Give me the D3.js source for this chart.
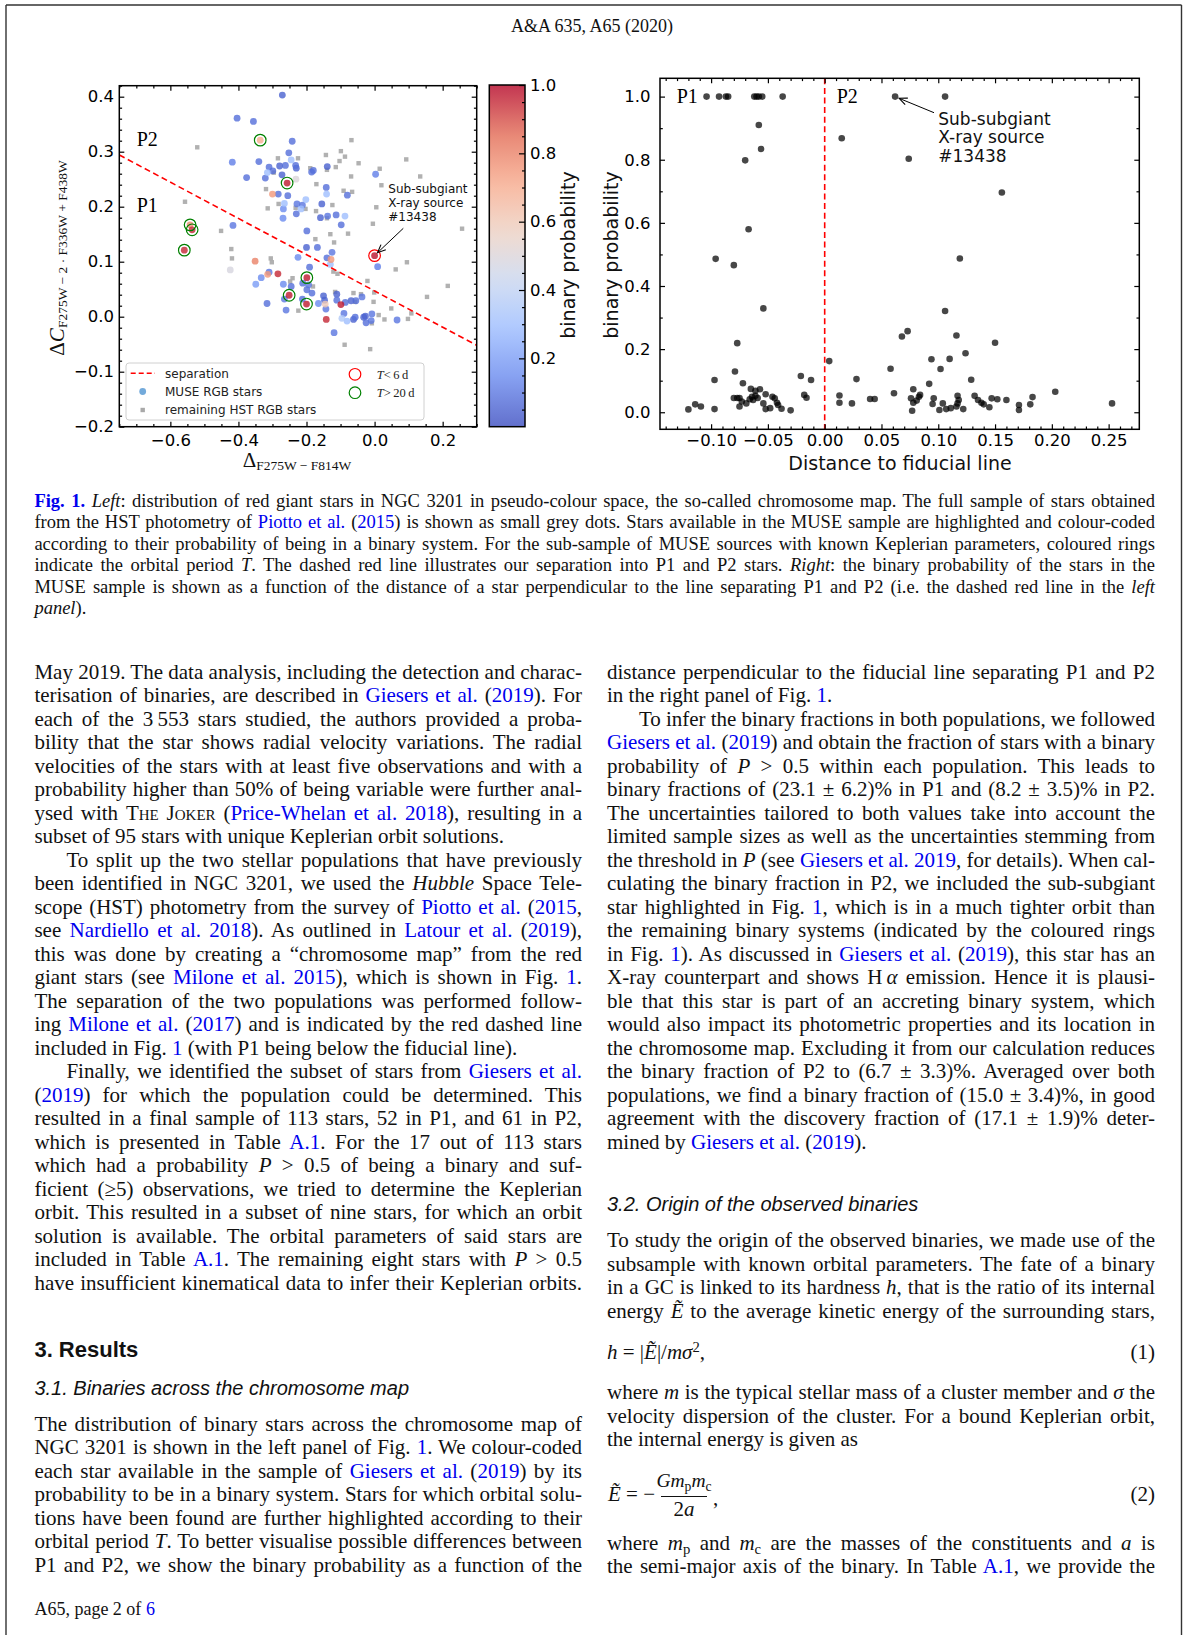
<!DOCTYPE html>
<html>
<head>
<meta charset="utf-8">
<script src="https://cdn.jsdelivr.net/npm/d3@7"></script>
<style>
html,body{margin:0;padding:0;background:#fff;}
body{width:1184px;height:1635px;position:relative;overflow:hidden;}
#page{position:absolute;left:0;top:0;width:1184px;height:1635px;}
#page svg{position:absolute;left:0;top:0;}
.ln{position:absolute;white-space:nowrap;color:#111;}
.ln a{color:#0000ee;text-decoration:none;}
.ln sub{font-size:0.7em;vertical-align:-0.28em;line-height:0;}
.ln sup{font-size:0.7em;vertical-align:0.5em;line-height:0;}
.sc{font-variant:small-caps;}
</style>
</head>
<body>
<div id="page"></div>
<script>
// ---------- chromosome map (left panel) ----------
const museDx = [-0.271,-0.404,-0.356,-0.242,-0.252,-0.418,-0.340,-0.310,-0.279,-0.262,-0.232,-0.230,-0.245,-0.299,-0.272,-0.315,-0.376,-0.321,-0.180,-0.185,-0.139,0.003,-0.142,-0.141,-0.080,-0.283,-0.255,-0.265,-0.268,-0.202,-0.228,-0.212,-0.216,-0.230,-0.269,-0.155,-0.159,-0.138,-0.113,-0.087,-0.098,-0.199,-0.416,-0.200,-0.168,-0.225,-0.125,-0.140,-0.130,-0.191,0.009,-0.310,-0.333,-0.349,-0.268,-0.211,-0.194,-0.199,-0.184,-0.245,-0.265,-0.316,-0.260,-0.212,-0.150,-0.147,-0.165,-0.143,-0.111,-0.111,-0.086,-0.069,-0.055,-0.037,-0.090,-0.096,-0.081,-0.062,-0.057,-0.032,-0.027,-0.008,-0.025,-0.010,0.066,-0.119,-0.424,-0.145,-0.231,
  -0.336,-0.257,-0.300,-0.542,-0.536,-0.559,-0.351,-0.284,-0.314,-0.199,-0.251,-0.200,-0.099,-0.142,0.000,-0.128];
const museDy = [0.403,0.361,0.355,0.319,0.298,0.281,0.282,0.272,0.274,0.275,0.275,0.270,0.285,0.265,0.258,0.262,0.253,0.252,0.266,0.263,0.273,0.259,0.235,0.223,0.221,0.223,0.220,0.206,0.196,0.213,0.205,0.203,0.196,0.187,0.179,0.205,0.180,0.183,0.185,0.183,0.167,0.156,0.166,0.126,0.126,0.108,0.117,0.107,0.095,0.090,0.091,0.081,0.071,0.059,0.059,0.061,0.058,0.049,0.043,0.055,0.032,0.024,0.012,0.032,0.038,0.030,0.024,0.014,0.041,0.030,0.026,0.029,0.029,0.036,0.006,-0.003,-0.008,-0.005,-0.001,-0.001,0.001,0.005,-0.011,-0.007,-0.006,-0.029,0.085,0.023,0.250,
  0.321,0.243,0.223,0.167,0.158,0.121,0.101,0.078,0.077,0.071,0.039,0.023,0.022,-0.005,0.111,0.104];
const museP = [0.05,0.08,0.08,0.08,0.08,0.12,0.08,0.08,0.05,0.08,0.08,0.05,0.30,0.08,0.05,0.30,0.08,0.08,0.08,0.08,0.05,0.12,0.08,0.30,0.08,0.08,0.08,0.30,0.15,0.30,0.10,0.10,0.30,0.08,0.15,0.05,0.05,0.10,0.08,0.30,0.08,0.08,0.10,0.05,0.08,0.15,0.10,0.08,0.30,0.08,0.12,0.10,0.15,0.20,0.15,0.08,0.10,0.08,0.08,0.08,0.10,0.08,0.10,0.08,0.05,0.05,0.15,0.10,0.05,0.08,0.08,0.05,0.08,0.10,0.10,0.35,0.30,0.05,0.08,0.05,0.05,0.10,0.08,0.10,0.10,0.10,0.48,0.60,0.50,
  0.70,0.97,0.75,0.78,0.95,0.95,0.80,0.95,0.75,0.97,0.97,0.97,0.97,0.95,0.98,0.75];

const hstDx = [-0.521,-0.557,-0.451,-0.421,-0.419,-0.068,-0.099,-0.087,-0.143,-0.103,-0.047,-0.114,-0.140,-0.189,-0.284,-0.225,-0.296,0.015,0.020,-0.069,-0.171,-0.319,-0.091,-0.066,-0.314,-0.282,-0.232,-0.203,-0.172,-0.124,-0.140,0.005,-0.005,-0.078,-0.130,-0.174,-0.119,0.093,0.134,0.257,0.095,0.062,-0.021,-0.001,0.049,0.154,0.215,0.098,0.029,-0.008,-0.088,-0.013,-0.305,-0.302,-0.121,-0.109,-0.248,-0.241,-0.181,-0.224,-0.116,-0.062,-0.040,-0.057,-0.003,0.012,0.108];
const hstDy = [0.308,0.209,0.156,0.123,0.106,0.321,0.301,0.291,0.294,0.283,0.279,0.272,0.267,0.270,0.288,0.288,0.262,0.269,0.239,0.255,0.241,0.232,0.229,0.227,0.197,0.205,0.198,0.196,0.192,0.203,0.179,0.199,0.169,0.151,0.150,0.141,0.135,0.286,0.255,0.160,0.099,0.086,0.065,0.044,0.015,0.036,0.056,-0.004,-0.005,-0.012,-0.051,-0.059,0.106,0.099,0.082,0.078,0.064,0.070,0.055,0.011,0.045,0.043,0.041,0.027,0.027,0.003,0.006];

// stars with Keplerian solutions, ringed by orbital period
const ringDx = [-0.336,-0.257,-0.542,-0.536,-0.559,-0.199,-0.251,-0.200,0.000];
const ringDy = [0.321,0.243,0.167,0.158,0.121,0.071,0.039,0.023,0.111];
const ringPeriod = ['long','long','long','long','long','long','long','long','short'];

// fiducial P1/P2 separation
const sepX = [-0.75, 0.30];
const sepY = [0.294, -0.052];

// ---------- binary probability vs distance (right panel) ----------
const distFid = [-0.104,-0.093,-0.087,-0.085,-0.062,-0.060,-0.058,-0.055,-0.037,0.062,0.106,
  -0.058,-0.056,-0.070,-0.067,-0.096,-0.080,-0.054,-0.077,-0.079,-0.097,-0.072,-0.021,-0.012,0.004,0.015,0.028,0.013,0.013,0.024,-0.018,-0.016,0.040,0.044,
  -0.120,-0.114,-0.109,-0.097,-0.080,-0.077,-0.075,-0.075,-0.073,-0.069,-0.066,-0.064,-0.063,-0.065,-0.061,-0.057,-0.061,-0.059,-0.054,-0.052,-0.052,-0.048,-0.046,-0.044,-0.042,-0.041,-0.038,-0.030,
  0.074,0.156,0.119,0.106,0.068,0.073,0.116,0.150,0.124,0.094,0.110,0.058,0.102,0.092,0.129,0.061,0.078,0.203,
  0.076,0.078,0.083,0.084,0.081,0.077,0.096,0.095,0.101,0.104,0.107,0.111,0.117,0.118,0.117,0.116,0.122,0.132,0.135,0.138,0.140,0.145,0.147,0.152,0.160,0.171,0.171,0.181,0.183,0.253];
const binProb = [1,1,1,1,1,1,1,1,1,1,1,
  0.910,0.834,0.798,0.580,0.486,0.466,0.329,0.219,0.129,0.102,0.092,0.115,0.102,0.162,0.868,0.105,0.053,0.030,0.028,0.055,0.046,0.042,0.042,
  0.009,0.025,0.018,0.010,0.045,0.045,0.045,0.018,0.034,0.028,0.041,0.049,0.039,0.074,0.068,0.073,0.052,0.045,0.028,0.057,0.010,0.013,0.049,0.044,0.030,0.023,0.011,0.006,
  0.803,0.696,0.487,0.321,0.240,0.257,0.243,0.220,0.187,0.168,0.169,0.138,0.137,0.090,0.103,0.060,0.073,0.065,
  0.044,0.030,0.049,0.055,0.037,0.005,0.044,0.026,0.007,0.028,0.010,0.013,0.052,0.039,0.028,0.018,0.010,0.052,0.039,0.030,0.025,0.016,0.044,0.041,0.039,0.023,0.007,0.025,0.048,0.028];

// tick labels
const leftXTicks = [-0.6,-0.4,-0.2,0.0,0.2];
const leftYTicks = [-0.2,-0.1,0.0,0.1,0.2,0.3,0.4];
const rightXTicks = [-0.10,-0.05,0.00,0.05,0.10,0.15,0.20,0.25];
const rightYTicks = [0.0,0.2,0.4,0.6,0.8,1.0];
const cbarTicks = [0.2,0.4,0.6,0.8,1.0];

const coolwarm = d3.scaleLinear()
  .domain(d3.range(8).map(i => i / 7))
  .range(['#3b4cc0','#6788ee','#9abbff','#c9d7f0','#edd1c2','#f7a889','#e26952','#b40426'])
  .interpolate(d3.interpolateRgb);

const page = d3.select('#page');
const svg = page.append('svg').attr('width', 1184).attr('height', 1635);

// page frame
const frame = svg.append('g').attr('stroke', '#333').attr('stroke-width', 1.4);
frame.append('line').attr('x1', 6).attr('x2', 1181.5).attr('y1', 5).attr('y2', 5);
frame.append('line').attr('x1', 6).attr('x2', 6).attr('y1', 5).attr('y2', 1635);
frame.append('line').attr('x1', 1181.5).attr('x2', 1181.5).attr('y1', 5).attr('y2', 1635);

svg.append('defs').append('marker')
  .attr('id', 'arr').attr('viewBox', '-10 -6 12 12').attr('refX', 0).attr('refY', 0)
  .attr('markerWidth', 12).attr('markerHeight', 12).attr('markerUnits', 'userSpaceOnUse')
  .attr('orient', 'auto')
  .append('path').attr('d', 'M-8,-3.5 L0,0 L-8,3.5').attr('fill', 'none').attr('stroke', '#000').attr('stroke-width', 1.1);

const SANS = '"DejaVu Sans", sans-serif';
const SERIF = '"Liberation Serif", "DejaVu Serif", serif';

function styleTicks(g, fs) {
  g.select('.domain').remove();
  g.selectAll('line').attr('stroke', '#000').attr('stroke-width', 1.2);
  g.selectAll('text').attr('font-family', SANS).attr('font-size', fs || 16.5).attr('fill', '#000');
}
function notIn(vals, step) {
  return vals.filter(v => Math.abs(v / step - Math.round(v / step)) > 1e-6);
}
function frameAxes(g, x, y, xMaj, yMaj, xMin, yMin, fx, fy, padX, padY) {
  const [x0, x1] = x.range(), [y0, y1] = y.range();
  const defs = [
    [d3.axisBottom(x), xMaj, -5, fx, padX, `translate(0,${y0})`],
    [d3.axisBottom(x), xMin, -2.8, null, 0, `translate(0,${y0})`],
    [d3.axisTop(x), xMaj, -5, null, 0, `translate(0,${y1})`],
    [d3.axisTop(x), xMin, -2.8, null, 0, `translate(0,${y1})`],
    [d3.axisLeft(y), yMaj, -5, fy, padY, `translate(${x0},0)`],
    [d3.axisLeft(y), yMin, -2.8, null, 0, `translate(${x0},0)`],
    [d3.axisRight(y), yMaj, -5, null, 0, `translate(${x1},0)`],
    [d3.axisRight(y), yMin, -2.8, null, 0, `translate(${x1},0)`]
  ];
  defs.forEach(([ax, vals, sz, fmt, pad, tr]) => {
    ax.tickValues(vals).tickSize(sz).tickPadding(pad).tickFormat(fmt || (() => ''));
    const a = g.append('g').attr('transform', tr).call(ax);
    styleTicks(a);
  });
  g.append('rect').attr('x', x0).attr('y', y1).attr('width', x1 - x0).attr('height', y0 - y1)
    .attr('fill', 'none').attr('stroke', '#000').attr('stroke-width', 1.5);
}

// ---------- left panel ----------
const xL = d3.scaleLinear().domain([-0.75, 0.30]).range([119.3, 476.7]);
const yL = d3.scaleLinear().domain([-0.20, 0.42]).range([426.7, 85.7]);
const gL = svg.append('g');
const clipL = svg.select('defs').append('clipPath').attr('id', 'clipL');
clipL.append('rect').attr('x', 119.3).attr('y', 85.7).attr('width', 357.4).attr('height', 341);
const plotL = gL.append('g').attr('clip-path', 'url(#clipL)');

plotL.selectAll('rect.hst').data(d3.range(hstDx.length)).join('rect').attr('class', 'hst')
  .attr('x', i => xL(hstDx[i]) - 2.2).attr('y', i => yL(hstDy[i]) - 2.2)
  .attr('width', 4.4).attr('height', 4.4).attr('fill', '#a9a9a9').attr('opacity', 0.9);

const museOrder = d3.range(museDx.length).sort((a, b) => museP[a] - museP[b]);
plotL.selectAll('circle.muse').data(museOrder).join('circle').attr('class', 'muse')
  .attr('cx', i => xL(museDx[i])).attr('cy', i => yL(museDy[i])).attr('r', 3.4)
  .attr('fill', i => coolwarm(museP[i])).attr('opacity', 0.8);

plotL.append('line')
  .attr('x1', xL(sepX[0])).attr('y1', yL(sepY[0])).attr('x2', xL(sepX[1])).attr('y2', yL(sepY[1]))
  .attr('stroke', '#ff0000').attr('stroke-width', 1.6).attr('stroke-dasharray', '6,3.6');

plotL.selectAll('circle.ring').data(d3.range(ringDx.length)).join('circle').attr('class', 'ring')
  .attr('cx', i => xL(ringDx[i])).attr('cy', i => yL(ringDy[i])).attr('r', 5.8)
  .attr('fill', 'none').attr('stroke', i => ringPeriod[i] === 'short' ? '#ff0000' : '#008000').attr('stroke-width', 1.2);

frameAxes(gL, xL, yL, leftXTicks, leftYTicks,
  notIn(d3.range(-0.75, 0.301, 0.05).map(v => +v.toFixed(3)), 0.2),
  notIn(d3.range(-0.20, 0.421, 0.02).map(v => +v.toFixed(3)), 0.1),
  d3.format('.1f'), d3.format('.1f'), 7.3, 5.3);

// P1 / P2 labels
gL.append('text').attr('x', 136.7).attr('y', 146).text('P2').attr('font-family', SERIF).attr('font-size', 20);
gL.append('text').attr('x', 136.7).attr('y', 211.7).text('P1').attr('font-family', SERIF).attr('font-size', 20);

// annotation
const annL = gL.append('text').attr('font-family', SANS).attr('font-size', 12).attr('fill', '#111');
['Sub-subgiant', 'X-ray source', '#13438'].forEach((t, i) =>
  annL.append('tspan').attr('x', 388.3).attr('y', 193.3 + i * 13.6).text(t));
gL.append('line').attr('x1', 403.3).attr('y1', 228.3).attr('x2', xL(0.0) + 3).attr('y2', yL(0.111) - 3)
  .attr('stroke', '#000').attr('stroke-width', 1).attr('marker-end', 'url(#arr)');

// legend
const lg = gL.append('g');
lg.append('rect').attr('x', 126).attr('y', 363).attr('width', 298).attr('height', 57).attr('rx', 3)
  .attr('fill', '#fff').attr('fill-opacity', 0.8).attr('stroke', '#d0d0d0').attr('stroke-width', 1);
lg.append('line').attr('x1', 130.7).attr('x2', 155).attr('y1', 373.3).attr('y2', 373.3)
  .attr('stroke', '#ff0000').attr('stroke-width', 1.6).attr('stroke-dasharray', '5,3');
lg.append('circle').attr('cx', 142.7).attr('cy', 391.5).attr('r', 3.4).attr('fill', '#5b9bd5').attr('opacity', 0.85);
lg.append('rect').attr('x', 140.5).attr('y', 407.8).attr('width', 4.4).attr('height', 4.4).attr('fill', '#a9a9a9');
[['separation', 373.3], ['MUSE RGB stars', 391.3], ['remaining HST RGB stars', 409.3]].forEach(([t, y]) =>
  lg.append('text').attr('x', 165).attr('y', y + 4.3).text(t).attr('font-family', SANS).attr('font-size', 12).attr('fill', '#222'));
lg.append('circle').attr('cx', 355).attr('cy', 374.3).attr('r', 5.8).attr('fill', 'none').attr('stroke', '#ff0000').attr('stroke-width', 1.2);
lg.append('circle').attr('cx', 355).attr('cy', 392.7).attr('r', 5.8).attr('fill', 'none').attr('stroke', '#008000').attr('stroke-width', 1.2);
[['<', '6', 374.3], ['>', '20', 392.7]].forEach(([op, n, y]) => {
  const t = lg.append('text').attr('x', 376.7).attr('y', y + 4.3).attr('font-family', SERIF).attr('font-size', 12.5).attr('fill', '#222');
  t.append('tspan').attr('font-style', 'italic').text('T');
  t.append('tspan').text(op + '\u2009' + n + '\u2009d');
});

// axis titles
const xlab = gL.append('text').attr('x', 297).attr('y', 466.5).attr('text-anchor', 'middle').attr('font-family', SERIF).attr('fill', '#111');
xlab.append('tspan').attr('font-size', 21).text('Δ');
xlab.append('tspan').attr('font-size', 13.5).attr('dy', 3).text('F275W − F814W');
const ylab = gL.append('text').attr('transform', 'translate(64,258) rotate(-90)').attr('text-anchor', 'middle').attr('font-family', SERIF).attr('fill', '#111');
ylab.append('tspan').attr('font-size', 21).text('Δ');
ylab.append('tspan').attr('font-size', 21).attr('font-style', 'italic').text('C');
ylab.append('tspan').attr('font-size', 13.5).attr('dy', 3).text('F275W − 2 · F336W + F438W');

// colour bar
const cb = svg.append('g');
const cbY = d3.scaleLinear().domain([0, 1]).range([426.7, 85]);
const grad = svg.select('defs').append('linearGradient').attr('id', 'cw')
  .attr('x1', 0).attr('y1', 1).attr('x2', 0).attr('y2', 0);
d3.range(0, 1.0001, 0.05).forEach(v => grad.append('stop').attr('offset', v).attr('stop-color', coolwarm(v)));
cb.append('rect').attr('x', 489.3).attr('y', 85).attr('width', 35.7).attr('height', 341.7)
  .attr('fill', 'url(#cw)').attr('opacity', 0.8);
const cbAx = cb.append('g').attr('transform', 'translate(525,0)')
  .call(d3.axisRight(cbY).tickValues(cbarTicks).tickSize(-6).tickPadding(5).tickFormat(d3.format('.1f')));
styleTicks(cbAx);
const cbMin = cb.append('g').attr('transform', 'translate(525,0)')
  .call(d3.axisRight(cbY).tickValues(notIn(d3.range(0.05, 1, 0.05).map(v => +v.toFixed(2)), 0.2)).tickSize(-3).tickFormat(() => ''));
styleTicks(cbMin);
cb.append('rect').attr('x', 489.3).attr('y', 85).attr('width', 35.7).attr('height', 341.7)
  .attr('fill', 'none').attr('stroke', '#000').attr('stroke-width', 1.5);
cb.append('text').attr('transform', 'translate(575,255) rotate(-90)').attr('text-anchor', 'middle')
  .attr('font-family', SANS).attr('font-size', 19).attr('fill', '#111').text('binary probability');

// ---------- right panel ----------
const xR = d3.scaleLinear().domain([-0.145, 0.277]).range([660, 1139.3]);
const yR = d3.scaleLinear().domain([-0.054, 1.058]).range([429.3, 78.3]);
const gR = svg.append('g');
gR.selectAll('circle.pt').data(d3.range(distFid.length)).join('circle').attr('class', 'pt')
  .attr('cx', i => xR(distFid[i])).attr('cy', i => yR(binProb[i])).attr('r', 3.3)
  .attr('fill', '#000').attr('opacity', 0.72);
gR.append('line').attr('x1', xR(0)).attr('x2', xR(0)).attr('y1', 78.3).attr('y2', 429.3)
  .attr('stroke', '#ff0000').attr('stroke-width', 1.6).attr('stroke-dasharray', '6,3.6');
frameAxes(gR, xR, yR, rightXTicks, rightYTicks,
  notIn(d3.range(-0.14, 0.2701, 0.01).map(v => +v.toFixed(3)), 0.05),
  notIn(d3.range(0.1, 1.0, 0.1).map(v => +v.toFixed(2)), 0.2),
  d3.format('.2f'), d3.format('.1f'), 5, 9.5);
gR.append('text').attr('x', 676.7).attr('y', 102.5).text('P1').attr('font-family', SERIF).attr('font-size', 20);
gR.append('text').attr('x', 836.7).attr('y', 102.5).text('P2').attr('font-family', SERIF).attr('font-size', 20);
const annR = gR.append('text').attr('font-family', SANS).attr('font-size', 17).attr('fill', '#111');
['Sub-subgiant', 'X-ray source', '#13438'].forEach((t, i) =>
  annR.append('tspan').attr('x', 938.3).attr('y', 125 + i * 18.4).text(t));
gR.append('line').attr('x1', 934).attr('y1', 112.7).attr('x2', xR(0.062) + 4).attr('y2', yR(1) + 1.7)
  .attr('stroke', '#000').attr('stroke-width', 1).attr('marker-end', 'url(#arr)');
gR.append('text').attr('transform', 'translate(618,255) rotate(-90)').attr('text-anchor', 'middle')
  .attr('font-family', SANS).attr('font-size', 19).attr('fill', '#111').text('binary probability');
gR.append('text').attr('x', 900).attr('y', 469.5).attr('text-anchor', 'middle')
  .attr('font-family', SANS).attr('font-size', 19).attr('fill', '#111').text('Distance to fiducial line');

// ---------- page text ----------
const TIMES = '"Liberation Serif","Times New Roman",serif';
const HELV = '"Liberation Sans",Arial,sans-serif';

function justify(s, w) {
  const node = s.node();
  const n = (node.textContent.match(/ /g) || []).length;
  const nat = node.getBoundingClientRect().width;
  let ws = n ? (w - nat) / n : 0;
  if (ws < -1.5) {
    s.style('word-spacing', '-1.5px');
    const w2 = node.getBoundingClientRect().width;
    s.style('display', 'inline-block').style('transform-origin', '0 50%').style('transform', `scaleX(${w / w2})`);
  } else {
    s.style('word-spacing', ws + 'px');
  }
}
function line(html, x, cy, w, f, opt = {}) {
  const sans = !!opt.sans;
  const base = cy + 0.3 * f;
  const off = sans ? 0.8465 * f : 0.8375 * f;
  const d = page.append('div').attr('class', 'ln')
    .style('left', x + 'px').style('top', (base - off) + 'px')
    .style('font-size', f + 'px').style('line-height', f + 'px')
    .style('font-family', sans ? HELV : TIMES);
  if (opt.css) Object.keys(opt.css).forEach(k => d.style(k, opt.css[k]));
  if (opt.right) d.style('width', w + 'px').style('text-align', 'right');
  const s = d.append('span').html(html);
  if (opt.justify) justify(s, w);
  return d;
}
function block(lines, x, y0, dy, w, f) {
  lines.forEach((raw, i) => {
    let t = raw, xi = x, wi = w, j = true;
    if (t.startsWith('>')) { t = t.slice(1); xi += 32; wi -= 32; }
    if (t.endsWith('~')) { t = t.slice(0, -1); j = false; }
    line(t, xi, y0 + i * dy, wi, f, { justify: j });
  });
}

line('A&amp;A 635, A65 (2020)', 0, 26.5, 1184, 18, { css: { width: '1184px', 'text-align': 'center', left: '0px' } });

const caption = [
  '<a style="font-weight:bold">Fig. 1.</a> <i>Left</i>: distribution of red giant stars in NGC 3201 in pseudo-colour space, the so-called chromosome map. The full sample of stars obtained',
  'from the HST photometry of <a>Piotto et al.</a> (<a>2015</a>) is shown as small grey dots. Stars available in the MUSE sample are highlighted and colour-coded',
  'according to their probability of being in a binary system. For the sub-sample of MUSE sources with known Keplerian parameters, coloured rings',
  'indicate the orbital period <i>T</i>. The dashed red line illustrates our separation into P1 and P2 stars. <i>Right</i>: the binary probability of the stars in the',
  'MUSE sample is shown as a function of the distance of a star perpendicular to the line separating P1 and P2 (i.e. the dashed red line in the <i>left</i>',
  '<i>panel</i>).~'
];
block(caption, 34.4, 501.8, 21.5, 1120.6, 18.5);

const leftCol = [
  'May 2019. The data analysis, including the detection and charac-',
  'terisation of binaries, are described in <a>Giesers et al.</a> (<a>2019</a>). For',
  'each of the 3\u2009553 stars studied, the authors provided a proba-',
  'bility that the star shows radial velocity variations. The radial',
  'velocities of the stars with at least five observations and with a',
  'probability higher than 50% of being variable were further anal-',
  'ysed with <span class="sc">The Joker</span> (<a>Price-Whelan et al. 2018</a>), resulting in a',
  'subset of 95 stars with unique Keplerian orbit solutions.~',
  '>To split up the two stellar populations that have previously',
  'been identified in NGC 3201, we used the <i>Hubble</i> Space Tele-',
  'scope (HST) photometry from the survey of <a>Piotto et al.</a> (<a>2015</a>,',
  'see <a>Nardiello et al. 2018</a>). As outlined in <a>Latour et al.</a> (<a>2019</a>),',
  'this was done by creating a “chromosome map” from the red',
  'giant stars (see <a>Milone et al. 2015</a>), which is shown in Fig. <a>1</a>.',
  'The separation of the two populations was performed follow-',
  'ing <a>Milone et al.</a> (<a>2017</a>) and is indicated by the red dashed line',
  'included in Fig. <a>1</a> (with P1 being below the fiducial line).~',
  '>Finally, we identified the subset of stars from <a>Giesers et al.</a>',
  '(<a>2019</a>) for which the population could be determined. This',
  'resulted in a final sample of 113 stars, 52 in P1, and 61 in P2,',
  'which is presented in Table <a>A.1</a>. For the 17 out of 113 stars',
  'which had a probability <i>P</i> &gt; 0.5 of being a binary and suf-',
  'ficient (≥5) observations, we tried to determine the Keplerian',
  'orbit. This resulted in a subset of nine stars, for which an orbit',
  'solution is available. The orbital parameters of said stars are',
  'included in Table <a>A.1</a>. The remaining eight stars with <i>P</i> &gt; 0.5',
  'have insufficient kinematical data to infer their Keplerian orbits.'
];
block(leftCol, 34.4, 672.9, 23.51, 547.6, 21);

line('<b>3. Results</b>', 34.4, 1351, 400, 22, { sans: true });
line('<i>3.1. Binaries across the chromosome map</i>', 34.4, 1388.5, 500, 20, { sans: true });
const sec31 = [
  'The distribution of binary stars across the chromosome map of',
  'NGC 3201 is shown in the left panel of Fig. <a>1</a>. We colour-coded',
  'each star available in the sample of <a>Giesers et al.</a> (<a>2019</a>) by its',
  'probability to be in a binary system. Stars for which orbital solu-',
  'tions have been found are further highlighted according to their',
  'orbital period <i>T</i>. To better visualise possible differences between',
  'P1 and P2, we show the binary probability as a function of the'
];
block(sec31, 34.4, 1425, 23.51, 547.6, 21);

const rightCol = [
  'distance perpendicular to the fiducial line separating P1 and P2',
  'in the right panel of Fig. <a>1</a>.~',
  '>To infer the binary fractions in both populations, we followed',
  '<a>Giesers et al.</a> (<a>2019</a>) and obtain the fraction of stars with a binary',
  'probability of <i>P</i> &gt; 0.5 within each population. This leads to',
  'binary fractions of (23.1 ± 6.2)% in P1 and (8.2 ± 3.5)% in P2.',
  'The uncertainties tailored to both values take into account the',
  'limited sample sizes as well as the uncertainties stemming from',
  'the threshold in <i>P</i> (see <a>Giesers et al. 2019</a>, for details). When cal-',
  'culating the binary fraction in P2, we included the sub-subgiant',
  'star highlighted in Fig. <a>1</a>, which is in a much tighter orbit than',
  'the remaining binary systems (indicated by the coloured rings',
  'in Fig. <a>1</a>). As discussed in <a>Giesers et al.</a> (<a>2019</a>), this star has an',
  'X-ray counterpart and shows H\u2009<i>α</i> emission. Hence it is plausi-',
  'ble that this star is part of an accreting binary system, which',
  'would also impact its photometric properties and its location in',
  'the chromosome map. Excluding it from our calculation reduces',
  'the binary fraction of P2 to (6.7 ± 3.3)%. Averaged over both',
  'populations, we find a binary fraction of (15.0 ± 3.4)%, in good',
  'agreement with the discovery fraction of (17.1 ± 1.9)% deter-',
  'mined by <a>Giesers et al.</a> (<a>2019</a>).~'
];
block(rightCol, 607, 672.9, 23.51, 548, 21);

line('<i>3.2. Origin of the observed binaries</i>', 607, 1205, 500, 20, { sans: true });
const sec32 = [
  'To study the origin of the observed binaries, we made use of the',
  'subsample with known orbital parameters. The fate of a binary',
  'in a GC is linked to its hardness <i>h</i>, that is the ratio of its internal',
  'energy <i>Ẽ</i> to the average kinetic energy of the surrounding stars,'
];
block(sec32, 607, 1241.4, 23.51, 548, 21);

line('<i>h</i> = |<i>Ẽ</i>|/<i>mσ</i><sup>2</sup>,', 607, 1353, 300, 21);
line('(1)', 855, 1353, 300, 21, { right: true });

const sec32b = [
  'where <i>m</i> is the typical stellar mass of a cluster member and <i>σ</i> the',
  'velocity dispersion of the cluster. For a bound Keplerian orbit,',
  'the internal energy is given as~'
];
block(sec32b, 607, 1393.7, 23.51, 548, 21);

// equation (2): fraction built from numerator, bar and denominator
line('<i>Ẽ</i> = −', 608, 1495, 100, 21);
line('<i>Gm</i><sub>p</sub><i>m</i><sub>c</sub>', 684, 1481, 60, 19.5, { css: { transform: 'translateX(-50%)' } });
line('2<i>a</i>', 684, 1510, 60, 21, { css: { transform: 'translateX(-50%)' } });
page.append('div').style('position', 'absolute').style('left', '661px').style('top', '1495.5px')
  .style('width', '46px').style('height', '0').style('border-top', '1px solid #111');
line(',', 713, 1499, 10, 21);
line('(2)', 855, 1495, 300, 21, { right: true });

const sec32c = [
  'where <i>m</i><sub>p</sub> and <i>m</i><sub>c</sub> are the masses of the constituents and <i>a</i> is',
  'the semi-major axis of the binary. In Table <a>A.1</a>, we provide the'
];
block(sec32c, 607, 1544, 23.51, 548, 21);

line('A65, page 2 of <a>6</a>', 34.4, 1609.7, 300, 18);
</script>
</body>
</html>
